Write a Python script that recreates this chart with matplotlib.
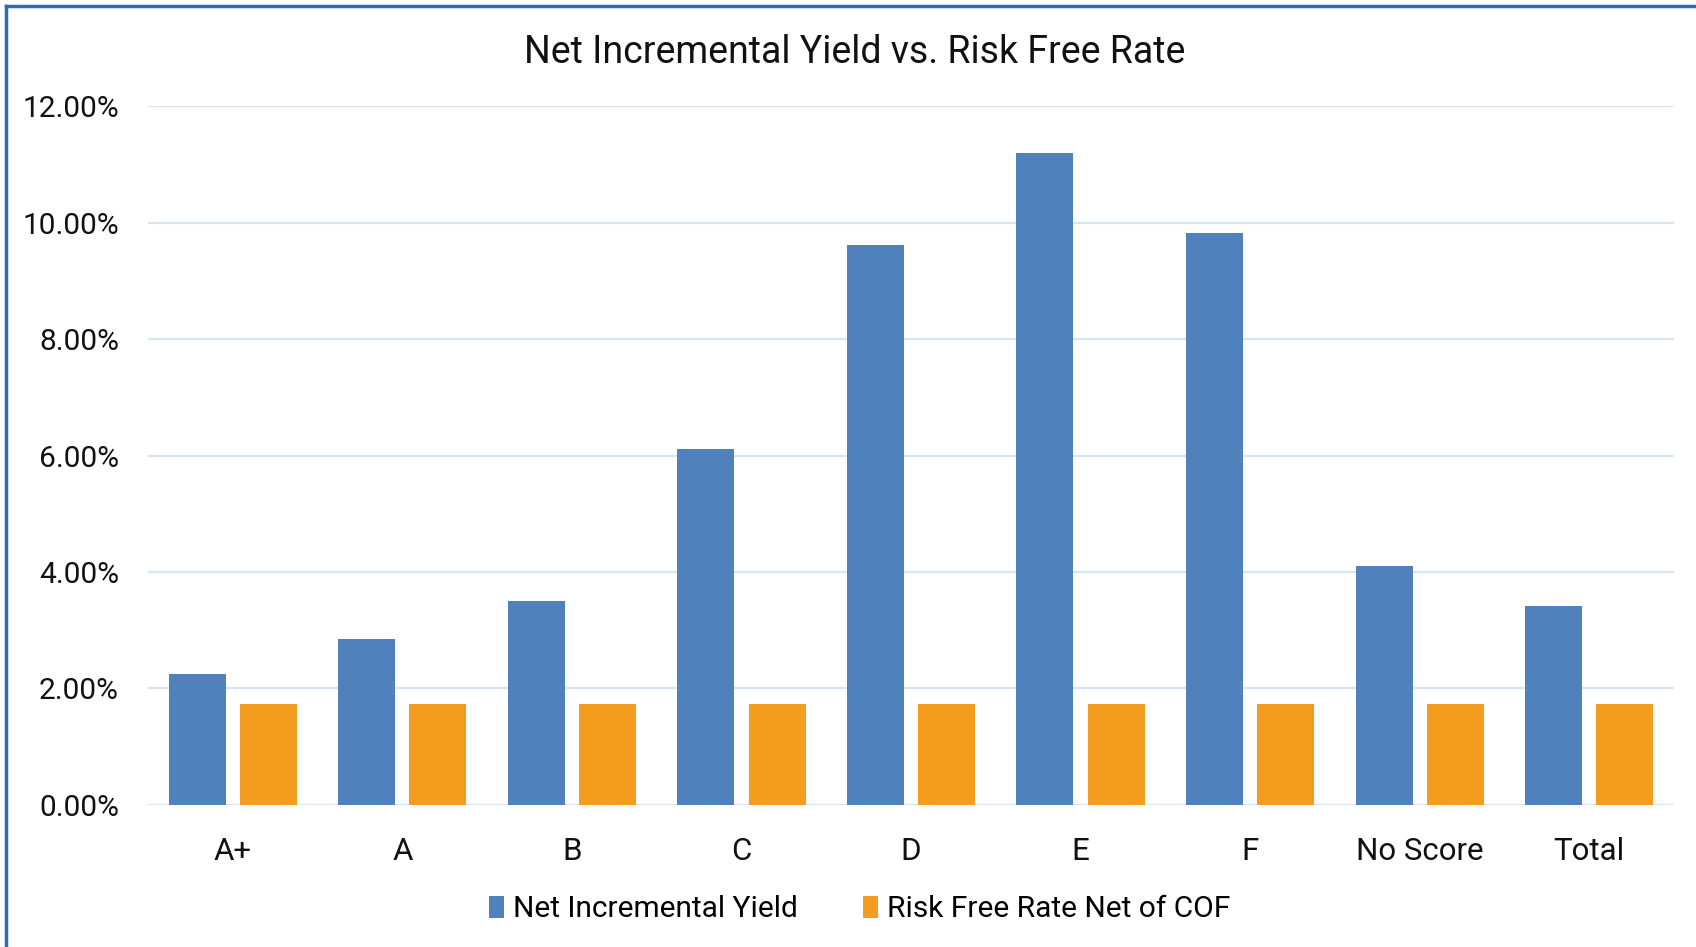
import matplotlib
matplotlib.use('Agg')
import matplotlib.pyplot as plt
import numpy as np
from matplotlib.lines import Line2D
from matplotlib.ticker import FuncFormatter

grades = ['A+', 'A', 'B', 'C', 'D', 'E', 'F', 'No Score', 'Total']
net_yield = [2.24, 2.85, 3.51, 6.12, 9.62, 11.19, 9.82, 4.10, 3.41]
risk_free = [1.73, 1.73, 1.73, 1.73, 1.73, 1.73, 1.73, 1.73, 1.73]

BLUE = '#4F81BD'
ORANGE = '#F39C1D'
GRID = '#D5E5F4'
FRAME = '#2E6EA6'

plt.rcParams['font.family'] = ['Roboto', 'DejaVu Sans']

fig = plt.figure(figsize=(16.96, 9.47), dpi=100)
ax = fig.add_axes([0.0873, 0.150, 0.8997, 0.738])

x = np.arange(len(grades))
w = 0.336
ax.bar(x - 0.21, net_yield, width=w, color=BLUE, label='Net Incremental Yield', zorder=3)
ax.bar(x + 0.21, risk_free, width=w, color=ORANGE, label='Risk Free Rate Net of COF', zorder=3)

ax.set_xlim(-0.5, len(grades) - 0.5)
ax.set_ylim(0, 12)
ax.set_yticks(np.arange(0, 12.1, 2))
ax.yaxis.set_major_formatter(FuncFormatter(lambda v, _: f'{v:.2f}%'))
ax.set_xticks(x)
ax.set_xticklabels(grades)
ax.grid(axis='y', color=GRID, lw=1.6, zorder=0)
for s in ax.spines.values():
    s.set_visible(False)
ax.tick_params(axis='y', length=0, labelsize=21.5, colors='#111111', pad=21)
ax.tick_params(axis='x', length=0, labelsize=22.5, colors='#111111', pad=23)

fig.text(0.504, 0.945, 'Net Incremental Yield vs. Risk Free Rate',
         ha='center', va='center', fontsize=27, color='#111111')

fig.legend(loc='center', bbox_to_anchor=(0.507, 0.040), ncol=2, frameon=False,
           fontsize=21.5, handlelength=0.5, handleheight=0.75, handletextpad=0.3,
           columnspacing=2.2)

# outer frame on the left and top edges
fig.add_artist(Line2D([0.0035, 0.0035], [0, 0.9935], transform=fig.transFigure, color=FRAME, lw=2.5))
fig.add_artist(Line2D([0.0035, 1], [0.9935, 0.9935], transform=fig.transFigure, color=FRAME, lw=2.5))

fig.savefig('out.png', dpi=100)
